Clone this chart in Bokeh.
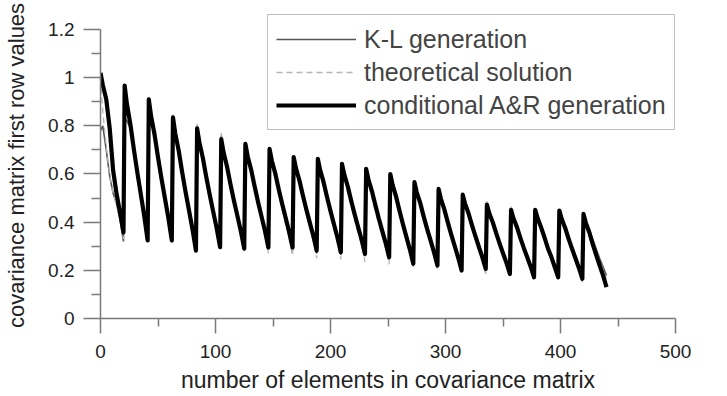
from bokeh.plotting import figure
from bokeh.models import FixedTicker, Legend, LegendItem, Range1d
from bokeh.embed import file_html
from bokeh.resources import INLINE

# ---------------- data ----------------
BLOCK = 21                                   # elements per row block of the 21x21 grid
OFFSETS = [0, 2, 5, 8, 11, 14, 17, 20]       # sampled positions inside each block

# conditional A&R generation (thick black)
ar_teeth = [
    [1.02, 0.97, 0.91, 0.79, 0.614, 0.517, 0.44, 0.358],
    [0.967, 0.890, 0.806, 0.703, 0.607, 0.517, 0.427, 0.324],
    [0.910, 0.840, 0.764, 0.670, 0.582, 0.500, 0.418, 0.324],
    [0.835, 0.769, 0.697, 0.608, 0.525, 0.448, 0.370, 0.282],
    [0.790, 0.731, 0.667, 0.587, 0.513, 0.444, 0.375, 0.296],
    [0.745, 0.690, 0.631, 0.558, 0.490, 0.427, 0.363, 0.290],
    [0.725, 0.673, 0.618, 0.549, 0.484, 0.424, 0.364, 0.295],
    [0.704, 0.655, 0.602, 0.536, 0.475, 0.418, 0.360, 0.295],
    [0.670, 0.623, 0.573, 0.511, 0.453, 0.398, 0.344, 0.282],
    [0.663, 0.616, 0.566, 0.504, 0.446, 0.391, 0.337, 0.275],
    [0.642, 0.597, 0.549, 0.489, 0.433, 0.380, 0.328, 0.268],
    [0.621, 0.577, 0.529, 0.471, 0.415, 0.364, 0.313, 0.254],
    [0.600, 0.555, 0.507, 0.447, 0.391, 0.339, 0.287, 0.227],
    [0.566, 0.524, 0.480, 0.424, 0.372, 0.324, 0.275, 0.220],
    [0.538, 0.497, 0.453, 0.399, 0.348, 0.301, 0.253, 0.199],
    [0.514, 0.477, 0.437, 0.388, 0.342, 0.298, 0.255, 0.206],
    [0.473, 0.438, 0.401, 0.355, 0.312, 0.271, 0.231, 0.185],
    [0.451, 0.417, 0.381, 0.336, 0.294, 0.255, 0.216, 0.171],
    [0.451, 0.418, 0.380, 0.338, 0.292, 0.256, 0.214, 0.171],
    [0.448, 0.414, 0.377, 0.332, 0.290, 0.250, 0.210, 0.165],
    [0.434, 0.398, 0.358, 0.309, 0.264, 0.221, 0.179, 0.130],
]

# K-L generation (thin dark grey)
kl_teeth = [
    [0.78, 0.80, 0.70, 0.59, 0.52, 0.476, 0.41, 0.32],
    [0.83, 0.82, 0.79, 0.70, 0.60, 0.51, 0.42, 0.33],
    [0.90, 0.83, 0.76, 0.665, 0.58, 0.50, 0.415, 0.32],
    [0.84, 0.77, 0.70, 0.61, 0.53, 0.455, 0.38, 0.29],
    [0.80, 0.735, 0.665, 0.585, 0.515, 0.445, 0.37, 0.29],
    [0.76, 0.695, 0.63, 0.555, 0.49, 0.43, 0.36, 0.285],
    [0.73, 0.67, 0.615, 0.545, 0.48, 0.42, 0.355, 0.285],
    [0.705, 0.65, 0.595, 0.53, 0.47, 0.41, 0.35, 0.28],
    [0.675, 0.625, 0.57, 0.51, 0.45, 0.395, 0.34, 0.27],
    [0.66, 0.61, 0.56, 0.50, 0.445, 0.39, 0.335, 0.265],
    [0.64, 0.59, 0.545, 0.485, 0.43, 0.38, 0.325, 0.26],
    [0.615, 0.57, 0.525, 0.47, 0.415, 0.365, 0.315, 0.245],
    [0.595, 0.55, 0.505, 0.45, 0.395, 0.345, 0.295, 0.235],
    [0.565, 0.52, 0.48, 0.43, 0.38, 0.33, 0.285, 0.22],
    [0.54, 0.50, 0.455, 0.40, 0.355, 0.31, 0.265, 0.205],
    [0.51, 0.475, 0.44, 0.395, 0.35, 0.305, 0.265, 0.205],
    [0.47, 0.44, 0.405, 0.365, 0.32, 0.28, 0.24, 0.19],
    [0.455, 0.42, 0.39, 0.345, 0.30, 0.265, 0.225, 0.18],
    [0.45, 0.42, 0.385, 0.345, 0.30, 0.265, 0.225, 0.175],
    [0.445, 0.415, 0.385, 0.34, 0.30, 0.26, 0.22, 0.17],
    [0.435, 0.405, 0.37, 0.33, 0.29, 0.25, 0.215, 0.178],
]

# theoretical solution (light grey dashed)
th_teeth = [
    [1.00, 0.86, 0.71, 0.59, 0.52, 0.47, 0.41, 0.33],
    [0.97, 0.879, 0.788, 0.691, 0.600, 0.515, 0.431, 0.32],
    [0.92, 0.835, 0.749, 0.658, 0.572, 0.493, 0.414, 0.31],
    [0.85, 0.773, 0.696, 0.614, 0.537, 0.465, 0.394, 0.30],
    [0.815, 0.742, 0.668, 0.589, 0.516, 0.448, 0.379, 0.29],
    [0.77, 0.701, 0.633, 0.559, 0.491, 0.427, 0.363, 0.28],
    [0.735, 0.670, 0.605, 0.535, 0.470, 0.410, 0.349, 0.27],
    [0.70, 0.638, 0.577, 0.511, 0.449, 0.392, 0.335, 0.26],
    [0.675, 0.616, 0.556, 0.492, 0.433, 0.378, 0.322, 0.25],
    [0.655, 0.598, 0.540, 0.479, 0.421, 0.368, 0.315, 0.245],
    [0.635, 0.579, 0.523, 0.463, 0.407, 0.355, 0.303, 0.235],
    [0.61, 0.556, 0.502, 0.444, 0.391, 0.341, 0.290, 0.225],
    [0.59, 0.538, 0.485, 0.429, 0.376, 0.328, 0.279, 0.215],
    [0.565, 0.515, 0.464, 0.410, 0.360, 0.313, 0.266, 0.205],
    [0.54, 0.492, 0.443, 0.392, 0.343, 0.299, 0.254, 0.195],
    [0.515, 0.469, 0.423, 0.373, 0.327, 0.284, 0.241, 0.185],
    [0.49, 0.446, 0.402, 0.355, 0.310, 0.270, 0.229, 0.175],
    [0.47, 0.427, 0.385, 0.339, 0.296, 0.257, 0.217, 0.165],
    [0.455, 0.413, 0.372, 0.327, 0.286, 0.247, 0.208, 0.158],
    [0.44, 0.399, 0.359, 0.315, 0.275, 0.237, 0.199, 0.15],
    [0.43, 0.392, 0.354, 0.313, 0.276, 0.241, 0.206, 0.16],
]

x_ticks = [0, 100, 200, 300, 400, 500]
x_minor_ticks = [50, 150, 250, 350, 450]
y_ticks = [0, 0.2, 0.4, 0.6, 0.8, 1.0, 1.2]
y_tick_labels = ["0", "0.2", "0.4", "0.6", "0.8", "1", "1.2"]
y_minor_ticks = [0.1, 0.3, 0.5, 0.7, 0.9, 1.1]

series_names = ["K-L generation", "theoretical solution", "conditional A&R generation"]


def flatten(teeth):
    xs, ys = [], []
    for k, tooth in enumerate(teeth):
        for j, v in zip(OFFSETS, tooth):
            xs.append(k * BLOCK + j)
            ys.append(v)
    return xs, ys


FONT = "Liberation Sans"

p = figure(width=727, height=396, output_backend="svg", toolbar_location=None,
           x_range=Range1d(0, 500), y_range=Range1d(0, 1.2705),
           min_border_left=100, min_border_right=52, min_border_top=12, min_border_bottom=78)
p.outline_line_color = None
p.xgrid.visible = False
p.ygrid.visible = False
p.background_fill_color = "white"

kx, ky = flatten(kl_teeth)
tx, ty = flatten(th_teeth)
ax, ay = flatten(ar_teeth)

r_kl = p.line(kx, ky, line_color="#555555", line_width=1.6)
r_th = p.line(tx, ty, line_color="#b5b5b5", line_width=1.3, line_dash="6 4")
r_ar = p.line(ax, ay, line_color="black", line_width=4.2, line_join="round")

AXC = "#7a7a7a"
for ax_ in (p.xaxis[0], p.yaxis[0]):
    ax_.axis_line_color = AXC
    ax_.axis_line_width = 1.5
    ax_.major_tick_line_color = AXC
    ax_.minor_tick_line_color = AXC
    ax_.major_tick_line_width = 1.5
    ax_.minor_tick_line_width = 1.5
    ax_.major_tick_in = 0
    ax_.minor_tick_in = 0
    ax_.major_label_text_font = FONT
    ax_.major_label_text_font_size = "19px"
    ax_.major_label_text_color = "#222222"
    ax_.axis_label_text_font = FONT
    ax_.axis_label_text_font_style = "normal"
    ax_.axis_label_text_color = "#222222"

p.xaxis.ticker = FixedTicker(ticks=x_ticks, minor_ticks=x_minor_ticks)
p.xaxis.major_tick_out = 15
p.xaxis.minor_tick_out = 8
p.xaxis.major_label_standoff = 11
p.xaxis.axis_label = "number of elements in covariance matrix"
p.xaxis.axis_label_text_font_size = "23px"
p.xaxis.axis_label_standoff = 6

p.yaxis.ticker = FixedTicker(ticks=y_ticks, minor_ticks=y_minor_ticks)
p.yaxis.bounds = (0, 1.2)
p.yaxis.major_label_overrides = {t: l for t, l in zip(y_ticks, y_tick_labels)}
p.yaxis.major_tick_out = 17
p.yaxis.minor_tick_out = 9
p.yaxis.major_label_standoff = 9
p.yaxis.axis_label = "covariance matrix first row values"
p.yaxis.axis_label_text_font_size = "22px"
p.yaxis.axis_label_standoff = 16

legend = Legend(items=[LegendItem(label=series_names[0], renderers=[r_kl]),
                       LegendItem(label=series_names[1], renderers=[r_th]),
                       LegendItem(label=series_names[2], renderers=[r_ar])],
                location=(167, 188), margin=0, padding=8, spacing=1,
                glyph_width=80, glyph_height=32, label_height=32, label_standoff=8,
                label_text_font=FONT, label_text_font_size="25px",
                border_line_color="#808080", border_line_width=1.5,
                background_fill_color="white", background_fill_alpha=1.0)
p.add_layout(legend)

open("out.html", "w").write(file_html(p, INLINE))
